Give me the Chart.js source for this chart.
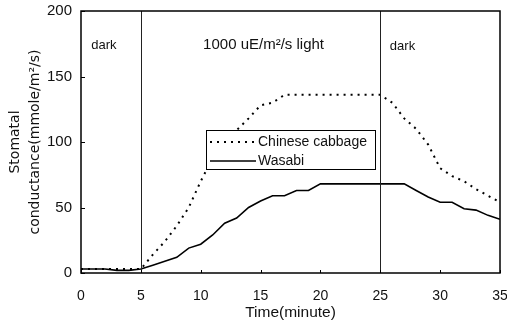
<!DOCTYPE html>
<html>
<head>
<meta charset="utf-8">
<script src="https://cdn.jsdelivr.net/npm/chart.js@4/dist/chart.umd.min.js"></script>
<style>
  html, body { margin: 0; padding: 0; background: #fff; }
  #wrap { width: 507px; height: 327px; position: relative; }
</style>
</head>
<body>
<div id="wrap"><canvas id="chart"></canvas></div>
<script>
// minutes 0..35
const minutes = [0, 1, 2, 3, 4, 5, 6, 7, 8, 9, 10, 11, 12, 13, 14, 15, 16, 17,
    18, 19, 20, 21, 22, 23, 24, 25, 26, 27, 28, 29, 30, 31, 32, 33, 34, 35];

const cabbage = [3, 3, 3, 3, 3, 3, 14, 24, 36, 50, 70, 88, 100, 109, 118, 128, 130, 136,
    136, 136, 136, 136, 136, 136, 136, 136, 130, 118, 110, 98, 80, 74, 70, 64, 59, 54];

const wasabi = [3, 3, 3, 2, 2, 3, 6, 9, 12, 19, 22, 29, 38, 42, 50, 55, 59, 59,
    63, 63, 68, 68, 68, 68, 68, 68, 68, 68, 63, 58, 54, 54, 49, 48, 44, 41];

const yTicks = [0, 50, 100, 150, 200];
const xTicks = [0, 5, 10, 15, 20, 25, 30, 35];

// light switched on / off
const phaseLines = [5, 25];
const phaseLabels = [
    { x: 0.85, y: 174, text: 'dark', size: 13 },
    { x: 10.2, y: 174, text: '1000 uE/m²/s light', size: 15 },
    { x: 25.8, y: 173, text: 'dark', size: 13 }
];

const FONT = '"Liberation Sans", Arial, Helvetica, sans-serif';

const pts = (arr) => arr.map((v, i) => ({ x: minutes[i], y: v }));

// frame, inner ticks, phase lines, texts and the boxed legend
const decorations = {
    id: 'decorations',
    afterDatasetsDraw(chart) {
        const { ctx, chartArea: a, scales: { x, y } } = chart;
        ctx.save();

        ctx.strokeStyle = '#222';
        ctx.lineWidth = 1;
        phaseLines.forEach(m => {
            const px = Math.round(x.getPixelForValue(m)) + 0.5;
            ctx.beginPath();
            ctx.moveTo(px, a.top);
            ctx.lineTo(px, a.bottom);
            ctx.stroke();
        });

        ctx.strokeStyle = '#000';
        ctx.lineWidth = 1.5;
        ctx.strokeRect(a.left, a.top, a.right - a.left, a.bottom - a.top);

        ctx.lineWidth = 1;
        yTicks.forEach(v => {
            const py = Math.round(y.getPixelForValue(v)) + 0.5;
            ctx.beginPath();
            ctx.moveTo(a.left, py);
            ctx.lineTo(a.left + 4, py);
            ctx.stroke();
        });
        xTicks.forEach(v => {
            const px = Math.round(x.getPixelForValue(v)) + 0.5;
            ctx.beginPath();
            ctx.moveTo(px, a.bottom);
            ctx.lineTo(px, a.bottom - 3);
            ctx.stroke();
        });

        ctx.fillStyle = '#111';
        ctx.textBaseline = 'middle';
        ctx.textAlign = 'left';
        phaseLabels.forEach(l => {
            ctx.font = l.size + 'px ' + FONT;
            ctx.fillText(l.text, x.getPixelForValue(l.x), y.getPixelForValue(l.y));
        });

        // legend box
        const bx = Math.round(x.getPixelForValue(10.42)), by = Math.round(y.getPixelForValue(109.5));
        const bw = 169, bh = 39;
        ctx.fillStyle = '#fff';
        ctx.fillRect(bx, by, bw, bh);
        ctx.strokeStyle = '#000';
        ctx.lineWidth = 1;
        ctx.strokeRect(bx + 0.5, by + 0.5, bw, bh);
        ctx.font = '14px ' + FONT;
        chart.data.datasets.forEach((ds, i) => {
            const ly = by + 12 + i * 19;
            ctx.beginPath();
            ctx.setLineDash(ds.borderDash || []);
            ctx.lineWidth = ds.borderWidth;
            ctx.strokeStyle = '#000';
            ctx.moveTo(bx + 4, ly);
            ctx.lineTo(bx + 50, ly);
            ctx.stroke();
            ctx.setLineDash([]);
            ctx.fillStyle = '#111';
            ctx.fillText(ds.label, bx + 52, ly);
        });
        ctx.restore();
    }
};

new Chart(document.getElementById('chart'), {
    type: 'line',
    data: {
        datasets: [
            {
                label: 'Chinese cabbage',
                data: pts(cabbage),
                borderColor: '#000',
                borderWidth: 2,
                borderDash: [2, 5],
                pointRadius: 0,
                tension: 0,
                fill: false
            },
            {
                label: 'Wasabi',
                data: pts(wasabi),
                borderColor: '#000',
                borderWidth: 1.6,
                pointRadius: 0,
                tension: 0,
                fill: false
            }
        ]
    },
    options: {
        responsive: true,
        maintainAspectRatio: false,
        animation: false,
        layout: { padding: { top: 11, right: 7, left: 0, bottom: 0 } },
        plugins: {
            legend: { display: false },
            tooltip: { enabled: false }
        },
        scales: {
            x: {
                type: 'linear',
                min: 0,
                max: 35,
                afterFit: s => { s.height = 54; s.paddingLeft = 0; s.paddingRight = 0; },
                afterBuildTicks: s => { s.ticks = xTicks.map(v => ({ value: v })); },
                grid: { display: false, drawTicks: false },
                border: { display: false },
                ticks: {
                    padding: 15,
                    maxRotation: 0,
                    color: '#111',
                    font: { family: FONT, size: 14 }
                },
                title: {
                    display: true,
                    text: 'Time(minute)',
                    color: '#111',
                    padding: { top: 0, bottom: 5 },
                    font: { family: FONT, size: 15.5 }
                }
            },
            y: {
                min: 0,
                max: 200,
                afterFit: s => { s.width = 81; s.paddingTop = 0; s.paddingBottom = 0; },
                afterBuildTicks: s => { s.ticks = yTicks.map(v => ({ value: v })); },
                grid: { display: false, drawTicks: false },
                border: { display: false },
                ticks: {
                    padding: 9,
                    color: '#111',
                    font: { family: FONT, size: 15 }
                },
                title: {
                    display: true,
                    text: ['Stomatal', 'conductance(mmole/m²/s)'],
                    color: '#111',
                    padding: { top: 5, bottom: 0 },
                    font: { family: '"DejaVu Sans", sans-serif', size: 14, lineHeight: 1.45 }
                }
            }
        }
    },
    plugins: [decorations]
});
</script>
</body>
</html>
